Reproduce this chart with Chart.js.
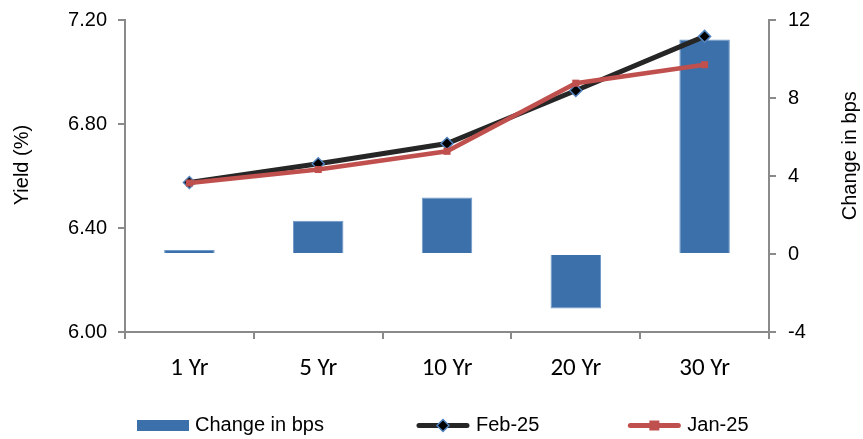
<!DOCTYPE html>
<html>
<head>
<meta charset="utf-8">
<script src="https://cdn.jsdelivr.net/npm/chart.js@4/dist/chart.umd.min.js"></script>
<style>
  html, body { margin: 0; padding: 0; background: #ffffff; }
  #wrap { width: 863px; height: 439px; }
</style>
</head>
<body>
<div id="wrap"><canvas id="yieldChart" width="863" height="439"></canvas></div>
<script>
// Tenors on the curve
const categories = ['1 Yr', '5 Yr', '10 Yr', '20 Yr', '30 Yr'];
// Month-on-month change, basis points (right axis)
const changeBps = [0.2, 1.7, 2.9, -2.8, 11.0];
// Yields in per cent (left axis)
const feb25 = [6.575, 6.647, 6.725, 6.929, 7.137];
const jan25 = [6.573, 6.625, 6.695, 6.957, 7.028];
// Axis ranges and tick steps
const yieldTicks = { min: 6.0, max: 7.2, step: 0.4 };
const bpsTicks = { min: -4, max: 12, step: 4 };

const AXIS_GREY = '#8a8a8a';
const TEXT = '#000000';
const SANS = '"Liberation Sans", Arial, sans-serif';
const CATEGORY_FONT = 'Carlito, Lato, "Liberation Sans", sans-serif';
const BAR_BLUE = '#3c70aa';
const FEB_DARK = '#262626';
const JAN_RED = '#c0504d';
const MARKER_EDGE = '#4f81bd';

// Rotated axis titles, reading bottom to top on both sides
const axisTitles = {
  id: 'axisTitles',
  afterDraw(chart) {
    const { ctx, chartArea } = chart;
    const h = chartArea.bottom - chartArea.top;
    const titles = [
      { text: 'Yield (%)', x: 22, y: chartArea.top + h * 0.465 },
      { text: 'Change in bps', x: chart.width - 13, y: chartArea.top + h * 0.435 }
    ];
    ctx.save();
    ctx.font = '20px ' + SANS;
    ctx.fillStyle = TEXT;
    ctx.textAlign = 'center';
    ctx.textBaseline = 'middle';
    titles.forEach(t => {
      ctx.save();
      ctx.translate(t.x, t.y);
      ctx.rotate(-Math.PI / 2);
      ctx.fillText(t.text, 0, 0);
      ctx.restore();
    });
    ctx.restore();
  }
};

function drawMarker(ctx, style, x, y, r, fill, edge, edgeWidth) {
  ctx.beginPath();
  if (style === 'rectRot') {
    ctx.moveTo(x, y - r); ctx.lineTo(x + r, y); ctx.lineTo(x, y + r); ctx.lineTo(x - r, y);
  } else {
    ctx.rect(x - r, y - r, 2 * r, 2 * r);
  }
  ctx.closePath();
  ctx.fillStyle = fill;
  ctx.fill();
  if (edgeWidth > 0) {
    ctx.lineWidth = edgeWidth;
    ctx.strokeStyle = edge;
    ctx.stroke();
  }
}

// Legend row under the category labels: bar swatch, then line + marker swatches
const bottomLegend = {
  id: 'bottomLegend',
  afterDraw(chart) {
    const { ctx, chartArea } = chart;
    const y = chart.height - 13.5;
    const gaps = [92, 88];
    let x = chartArea.left + 12;
    ctx.save();
    ctx.font = '20px ' + SANS;
    ctx.textBaseline = 'middle';
    ctx.textAlign = 'left';
    [0, 1, 2].forEach(i => {
      const ds = chart.data.datasets[i];
      if (ds.type === 'bar') {
        ctx.fillStyle = ds.backgroundColor;
        ctx.fillRect(x, y - 5.5, 52, 11);
        x += 52;
      } else {
        ctx.beginPath();
        ctx.lineCap = 'round';
        ctx.lineWidth = 5;
        ctx.strokeStyle = ds.borderColor;
        ctx.moveTo(x + 3, y);
        ctx.lineTo(x + 51, y);
        ctx.stroke();
        drawMarker(ctx, ds.pointStyle, x + 27, y, ds.pointStyle === 'rectRot' ? 6 : 5,
          ds.pointBackgroundColor, ds.pointBorderColor, ds.pointBorderWidth);
        x += 54;
      }
      x += 6;
      ctx.fillStyle = TEXT;
      ctx.fillText(ds.label, x, y);
      x += ctx.measureText(ds.label).width + (gaps[i] || 0);
    });
    ctx.restore();
  }
};

// Vertical axes: fixed width, and no extra room reserved above the top tick label
function fitVertical(width) {
  return function (scale) {
    scale.width = width;
    scale.paddingTop = 0;
    scale.paddingBottom = 0;
  };
}

const ctx = document.getElementById('yieldChart').getContext('2d');
new Chart(ctx, {
  data: {
    labels: categories,
    datasets: [
      {
        type: 'bar',
        label: 'Change in bps',
        data: changeBps,
        yAxisID: 'y1',
        backgroundColor: BAR_BLUE,
        borderColor: '#6f98c9',
        borderWidth: 1,
        categoryPercentage: 0.8,
        barPercentage: 0.49,
        order: 3
      },
      {
        type: 'line',
        label: 'Feb-25',
        data: feb25,
        yAxisID: 'y',
        borderColor: FEB_DARK,
        borderWidth: 5,
        pointStyle: 'rectRot',
        pointRadius: 6,
        pointBackgroundColor: '#000000',
        pointBorderColor: MARKER_EDGE,
        pointBorderWidth: 1.5,
        tension: 0,
        order: 2
      },
      {
        type: 'line',
        label: 'Jan-25',
        data: jan25,
        yAxisID: 'y',
        borderColor: JAN_RED,
        borderWidth: 4.5,
        pointStyle: 'rect',
        pointRadius: 5,
        pointBackgroundColor: JAN_RED,
        pointBorderColor: JAN_RED,
        pointBorderWidth: 0,
        tension: 0,
        order: 1
      }
    ]
  },
  options: {
    responsive: false,
    animation: false,
    devicePixelRatio: 1,
    layout: { padding: { top: 20, left: 0, right: 0, bottom: 57 } },
    plugins: {
      legend: { display: false },
      tooltip: { enabled: false }
    },
    scales: {
      x: {
        type: 'category',
        offset: true,
        grid: { offset: true, drawOnChartArea: false, drawTicks: true, tickLength: 7, color: AXIS_GREY, lineWidth: 2 },
        border: { display: true, color: AXIS_GREY, width: 2 },
        ticks: { color: TEXT, font: { family: CATEGORY_FONT, size: 25 }, padding: 15, maxRotation: 0 },
        afterFit(scale) { scale.height = 50; }
      },
      y: {
        position: 'left',
        min: yieldTicks.min,
        max: yieldTicks.max,
        grid: { drawOnChartArea: false, drawTicks: true, tickLength: 7, color: AXIS_GREY, lineWidth: 2 },
        border: { display: true, color: AXIS_GREY, width: 2 },
        ticks: {
          stepSize: yieldTicks.step,
          color: TEXT,
          font: { family: SANS, size: 20 },
          padding: 11,
          callback: v => Number(v).toFixed(2)
        },
        afterFit: fitVertical(125)
      },
      y1: {
        position: 'right',
        min: bpsTicks.min,
        max: bpsTicks.max,
        grid: { drawOnChartArea: false, drawTicks: true, tickLength: 7, color: AXIS_GREY, lineWidth: 2 },
        border: { display: true, color: AXIS_GREY, width: 2 },
        ticks: {
          stepSize: bpsTicks.step,
          color: TEXT,
          font: { family: SANS, size: 20 },
          padding: 12
        },
        afterFit: fitVertical(94)
      }
    }
  },
  plugins: [axisTitles, bottomLegend]
});
</script>
</body>
</html>
